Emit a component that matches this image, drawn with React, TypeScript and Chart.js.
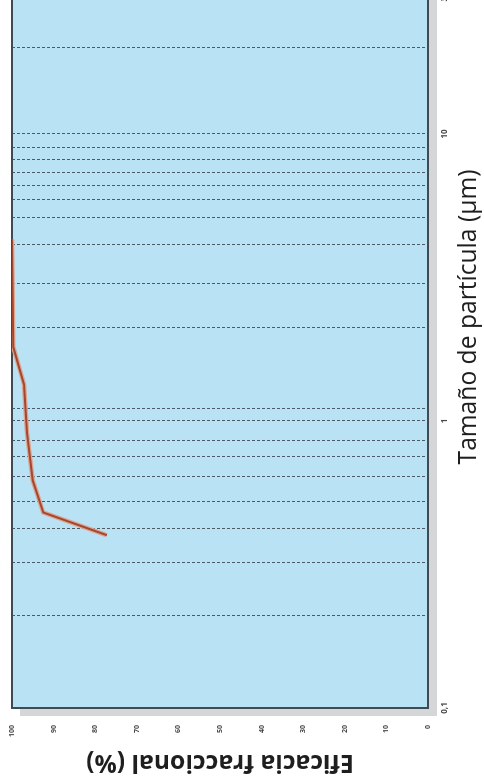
import React, { useEffect, useRef } from "react";
import { Chart, registerables } from "chart.js";

Chart.register(...registerables);

// ---- data ----
const PARTICLE_SIZE_UM = [0.4, 0.48, 0.62, 0.91, 1.34, 1.81, 4.3];
const FRACTIONAL_EFFICIENCY = [77.2, 92.5, 95.0, 96.4, 97.1, 99.7, 100];
const SIZE_TICKS = [0.1, 1, 10, 30];
const SIZE_GRID = [0.21, 0.32, 0.42, 0.52, 0.64, 0.75, 0.85, 1, 1.1, 2.1, 3.0, 4.1, 5.1, 5.9, 6.6, 7.3, 8.1, 8.9, 10, 20];
const SIZE_MIN = 0.1;
const SIZE_MAX = 30;
const EFF_MIN = 0;
const EFF_MAX = 100;
const EFF_STEP = 10;
const X_TITLE = "Tamaño de partícula (µm)";
const Y_TITLE = "Eficacia fraccional (%)";

// ---- styles ----
const FONT = "'Open Sans', 'DejaVu Sans', sans-serif";
const PLOT_BG = "#bae2f5";
const PLOT_BORDER = "#3f4a52";
const GRID_COLOR = "#4d5a63";
const SHADOW = "#d4d6d8";
const LINE_COLOR = "#a3472f";
const LINE_HALO = "#dca491";

function fitFont(ctx: CanvasRenderingContext2D, text: string, weight: string, width: number) {
  ctx.font = `${weight} 20px ${FONT}`;
  const w = ctx.measureText(text).width;
  const size = (20 * width) / w;
  return `${weight} ${size}px ${FONT}`;
}

const decor = {
  id: "decor",
  beforeDraw(chart: any) {
    const { ctx, chartArea: a } = chart;
    ctx.save();
    ctx.fillStyle = SHADOW;
    ctx.fillRect(a.left - 8, a.top + 8, 8, a.bottom - a.top + 1);
    ctx.fillRect(a.left - 8, a.bottom, a.right - a.left + 8, 9);
    ctx.fillStyle = PLOT_BG;
    ctx.fillRect(a.left, a.top, a.right - a.left, a.bottom - a.top);
    ctx.restore();
  },
  beforeDatasetsDraw(chart: any) {
    const { ctx, chartArea: a } = chart;
    const xs = chart.scales.x;
    ctx.save();
    ctx.strokeStyle = GRID_COLOR;
    ctx.lineWidth = 1;
    ctx.setLineDash([3, 2]);
    for (const v of SIZE_GRID) {
      const px = Math.round(xs.getPixelForValue(v)) + 0.5;
      ctx.beginPath();
      ctx.moveTo(px, a.top);
      ctx.lineTo(px, a.bottom);
      ctx.stroke();
    }
    ctx.setLineDash([]);
    ctx.strokeStyle = PLOT_BORDER;
    ctx.lineWidth = 2;
    ctx.strokeRect(a.left, a.top, a.right - a.left, a.bottom - a.top);
    ctx.restore();
  },
  afterDraw(chart: any) {
    const { ctx, chartArea: a } = chart;
    ctx.save();
    ctx.fillStyle = "#1e1e1e";
    ctx.textAlign = "center";
    ctx.textBaseline = "middle";
    // y title (efficiency), rotated
    ctx.save();
    ctx.font = fitFont(ctx, Y_TITLE, "bold", 268);
    ctx.translate(a.left - 54, (a.top + a.bottom) / 2);
    ctx.rotate(-Math.PI / 2);
    ctx.fillText(Y_TITLE, 0, 0);
    ctx.restore();
    // x title (particle size)
    ctx.font = fitFont(ctx, X_TITLE, "normal", 295);
    ctx.fillText(X_TITLE, a.left + 391, a.bottom + 41);
    ctx.restore();
  },
};

export default function App() {
  const ref = useRef<HTMLCanvasElement | null>(null);

  useEffect(() => {
    if (!ref.current) return;
    const points = PARTICLE_SIZE_UM.map((s, i) => ({ x: s, y: FRACTIONAL_EFFICIENCY[i] }));
    const chart = new Chart(ref.current, {
      type: "line",
      data: {
        datasets: [
          {
            data: points,
            borderColor: LINE_COLOR,
            borderWidth: 2,
            pointRadius: 0,
            tension: 0,
            order: 1,
          },
          {
            data: points,
            borderColor: LINE_HALO,
            borderWidth: 4.5,
            pointRadius: 0,
            tension: 0,
            order: 2,
          },
        ],
      },
      options: {
        responsive: false,
        animation: false,
        layout: { padding: { top: 12, right: 15, left: 0, bottom: 0 } },
        plugins: { legend: { display: false }, tooltip: { enabled: false } },
        scales: {
          x: {
            type: "logarithmic",
            position: "bottom",
            min: SIZE_MIN,
            max: SIZE_MAX,
            afterBuildTicks: (s: any) => {
              s.ticks = SIZE_TICKS.map((v) => ({ value: v }));
            },
            afterFit: (s: any) => {
              s.height = 56;
              s.paddingLeft = 0;
              s.paddingRight = 0;
            },
            grid: { display: false, drawTicks: false },
            border: { display: false },
            ticks: {
              autoSkip: false,
              maxRotation: 0,
              padding: 12,
              color: "#4a4a4a",
              font: { family: FONT, size: 8, weight: "bold" },
              callback: (v: any) => String(v).replace(".", ","),
            },
          },
          y: {
            type: "linear",
            min: EFF_MIN,
            max: EFF_MAX,
            afterFit: (s: any) => {
              s.width = 74;
              s.paddingTop = 0;
              s.paddingBottom = 0;
            },
            grid: { display: false, drawTicks: false },
            border: { display: false },
            ticks: {
              stepSize: EFF_STEP,
              padding: 17,
              color: "#4a4a4a",
              font: { family: FONT, size: 7, weight: "bold" },
            },
          },
        },
      },
      plugins: [decor],
    });
    return () => chart.destroy();
  }, []);

  return (
    <div
      style={{
        position: "fixed",
        left: 0,
        top: 0,
        width: 800,
        height: 484,
        transformOrigin: "0 0",
        transform: "translateY(782px) rotate(-90deg)",
        background: "#ffffff",
      }}
    >
      <canvas ref={ref} width={800} height={484} style={{ display: "block", width: 800, height: 484 }} />
    </div>
  );
}
